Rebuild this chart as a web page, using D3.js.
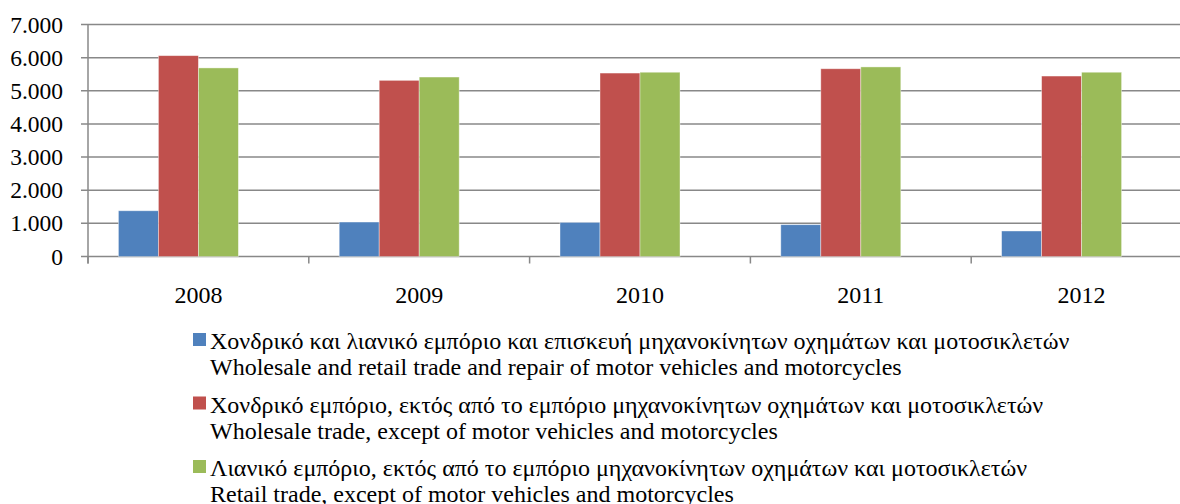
<!DOCTYPE html>
<html>
<head>
<meta charset="utf-8">
<script src="https://cdn.jsdelivr.net/npm/d3@7"></script>
<style>
  body { margin: 0; background: #fff; }
</style>
</head>
<body>
<svg id="chart" width="1180" height="504"></svg>
<script>
const years = ["2008", "2009", "2010", "2011", "2012"];
const seriesNames = [
    ["Χονδρικό και λιανικό εμπόριο και επισκευή μηχανοκίνητων οχημάτων και μοτοσικλετών",
     "Wholesale and retail trade and repair of motor vehicles and motorcycles"],
    ["Χονδρικό εμπόριο, εκτός από το εμπόριο μηχανοκίνητων οχημάτων και μοτοσικλετών",
     "Wholesale trade, except of motor vehicles and motorcycles"],
    ["Λιανικό εμπόριο, εκτός από το εμπόριο μηχανοκίνητων οχημάτων και μοτοσικλετών",
     "Retail trade, except of motor vehicles and motorcycles"]
];
const tradeRepair = [1380, 1040, 1030, 960, 770];
const wholesale   = [6060, 5315, 5535, 5665, 5445];
const retail      = [5690, 5415, 5560, 5720, 5560];
const yTicks = [0, 1000, 2000, 3000, 4000, 5000, 6000, 7000];
const colors = ["#4f81bd", "#c0504d", "#9bbb59"];

const series = [tradeRepair, wholesale, retail];
const font = "'Times New Roman', Tinos, 'Liberation Serif', 'Noto Serif', 'DejaVu Serif', serif";

var svg = d3.select("#chart");
var margin = {left: 88, top: 24.5, bottom: 256.5, right: 1192};

var x0 = d3.scaleBand().domain(years).range([margin.left, margin.right]).paddingInner(0).paddingOuter(0);
// the source chart keeps room for a 4th (empty) series, so bars sit left of centre
var groupW = 160;
var x1 = d3.scaleBand().domain(d3.range(4)).range([0, groupW]);
var y = d3.scaleLinear().domain([0, 7000]).range([margin.bottom, margin.top]);

var grid = svg.append("g");
yTicks.forEach(t => {
    grid.append("line")
        .attr("x1", margin.left - 7).attr("x2", margin.right)
        .attr("y1", y(t)).attr("y2", y(t))
        .attr("stroke", "#888").attr("stroke-width", 1.5);
});

// y axis line
svg.append("line")
    .attr("x1", margin.left).attr("x2", margin.left)
    .attr("y1", y(7000)).attr("y2", margin.bottom + 7)
    .attr("stroke", "#888").attr("stroke-width", 1.5);

// category ticks
d3.range(years.length + 1).forEach(i => {
    var xx = margin.left + i * x0.bandwidth();
    svg.append("line")
        .attr("x1", xx).attr("x2", xx)
        .attr("y1", margin.bottom).attr("y2", margin.bottom + 7)
        .attr("stroke", "#888").attr("stroke-width", 1.5);
});

// bars
series.forEach((vals, si) => {
    svg.append("g").selectAll("rect")
        .data(vals)
        .join("rect")
        .attr("x", (d, i) => x0(years[i]) + (x0.bandwidth() - groupW) / 2 + x1(si))
        .attr("y", d => y(d))
        .attr("width", x1.bandwidth())
        .attr("height", d => y(0) - y(d))
        .attr("fill", colors[si])
        .attr("stroke", "rgba(255,255,255,0.5)")
        .attr("stroke-width", 0.8);
});

// y labels
svg.append("g").selectAll("text")
    .data(yTicks)
    .join("text")
    .attr("x", 63)
    .attr("y", d => y(d) + 8)
    .attr("text-anchor", "end")
    .attr("font-family", font)
    .attr("font-size", 23.5)
    .text(d => d3.format(",")(d).replace(/,/g, "."));

// x labels
svg.append("g").selectAll("text")
    .data(years)
    .join("text")
    .attr("x", d => x0(d) + x0.bandwidth() / 2)
    .attr("y", 303)
    .attr("text-anchor", "middle")
    .attr("font-family", font)
    .attr("font-size", 24)
    .text(d => d);

// legend
var legend = svg.append("g");
seriesNames.forEach((names, i) => {
    var by = 349 + i * 63.5;
    legend.append("rect")
        .attr("x", 193).attr("y", by - 16)
        .attr("width", 13).attr("height", 13)
        .attr("fill", colors[i]);
    names.forEach((nm, j) => {
        legend.append("text")
            .attr("x", 210)
            .attr("y", by + j * 26)
            .attr("font-family", font)
            .attr("font-size", 24)
            .text(nm);
    });
});
</script>
</body>
</html>
